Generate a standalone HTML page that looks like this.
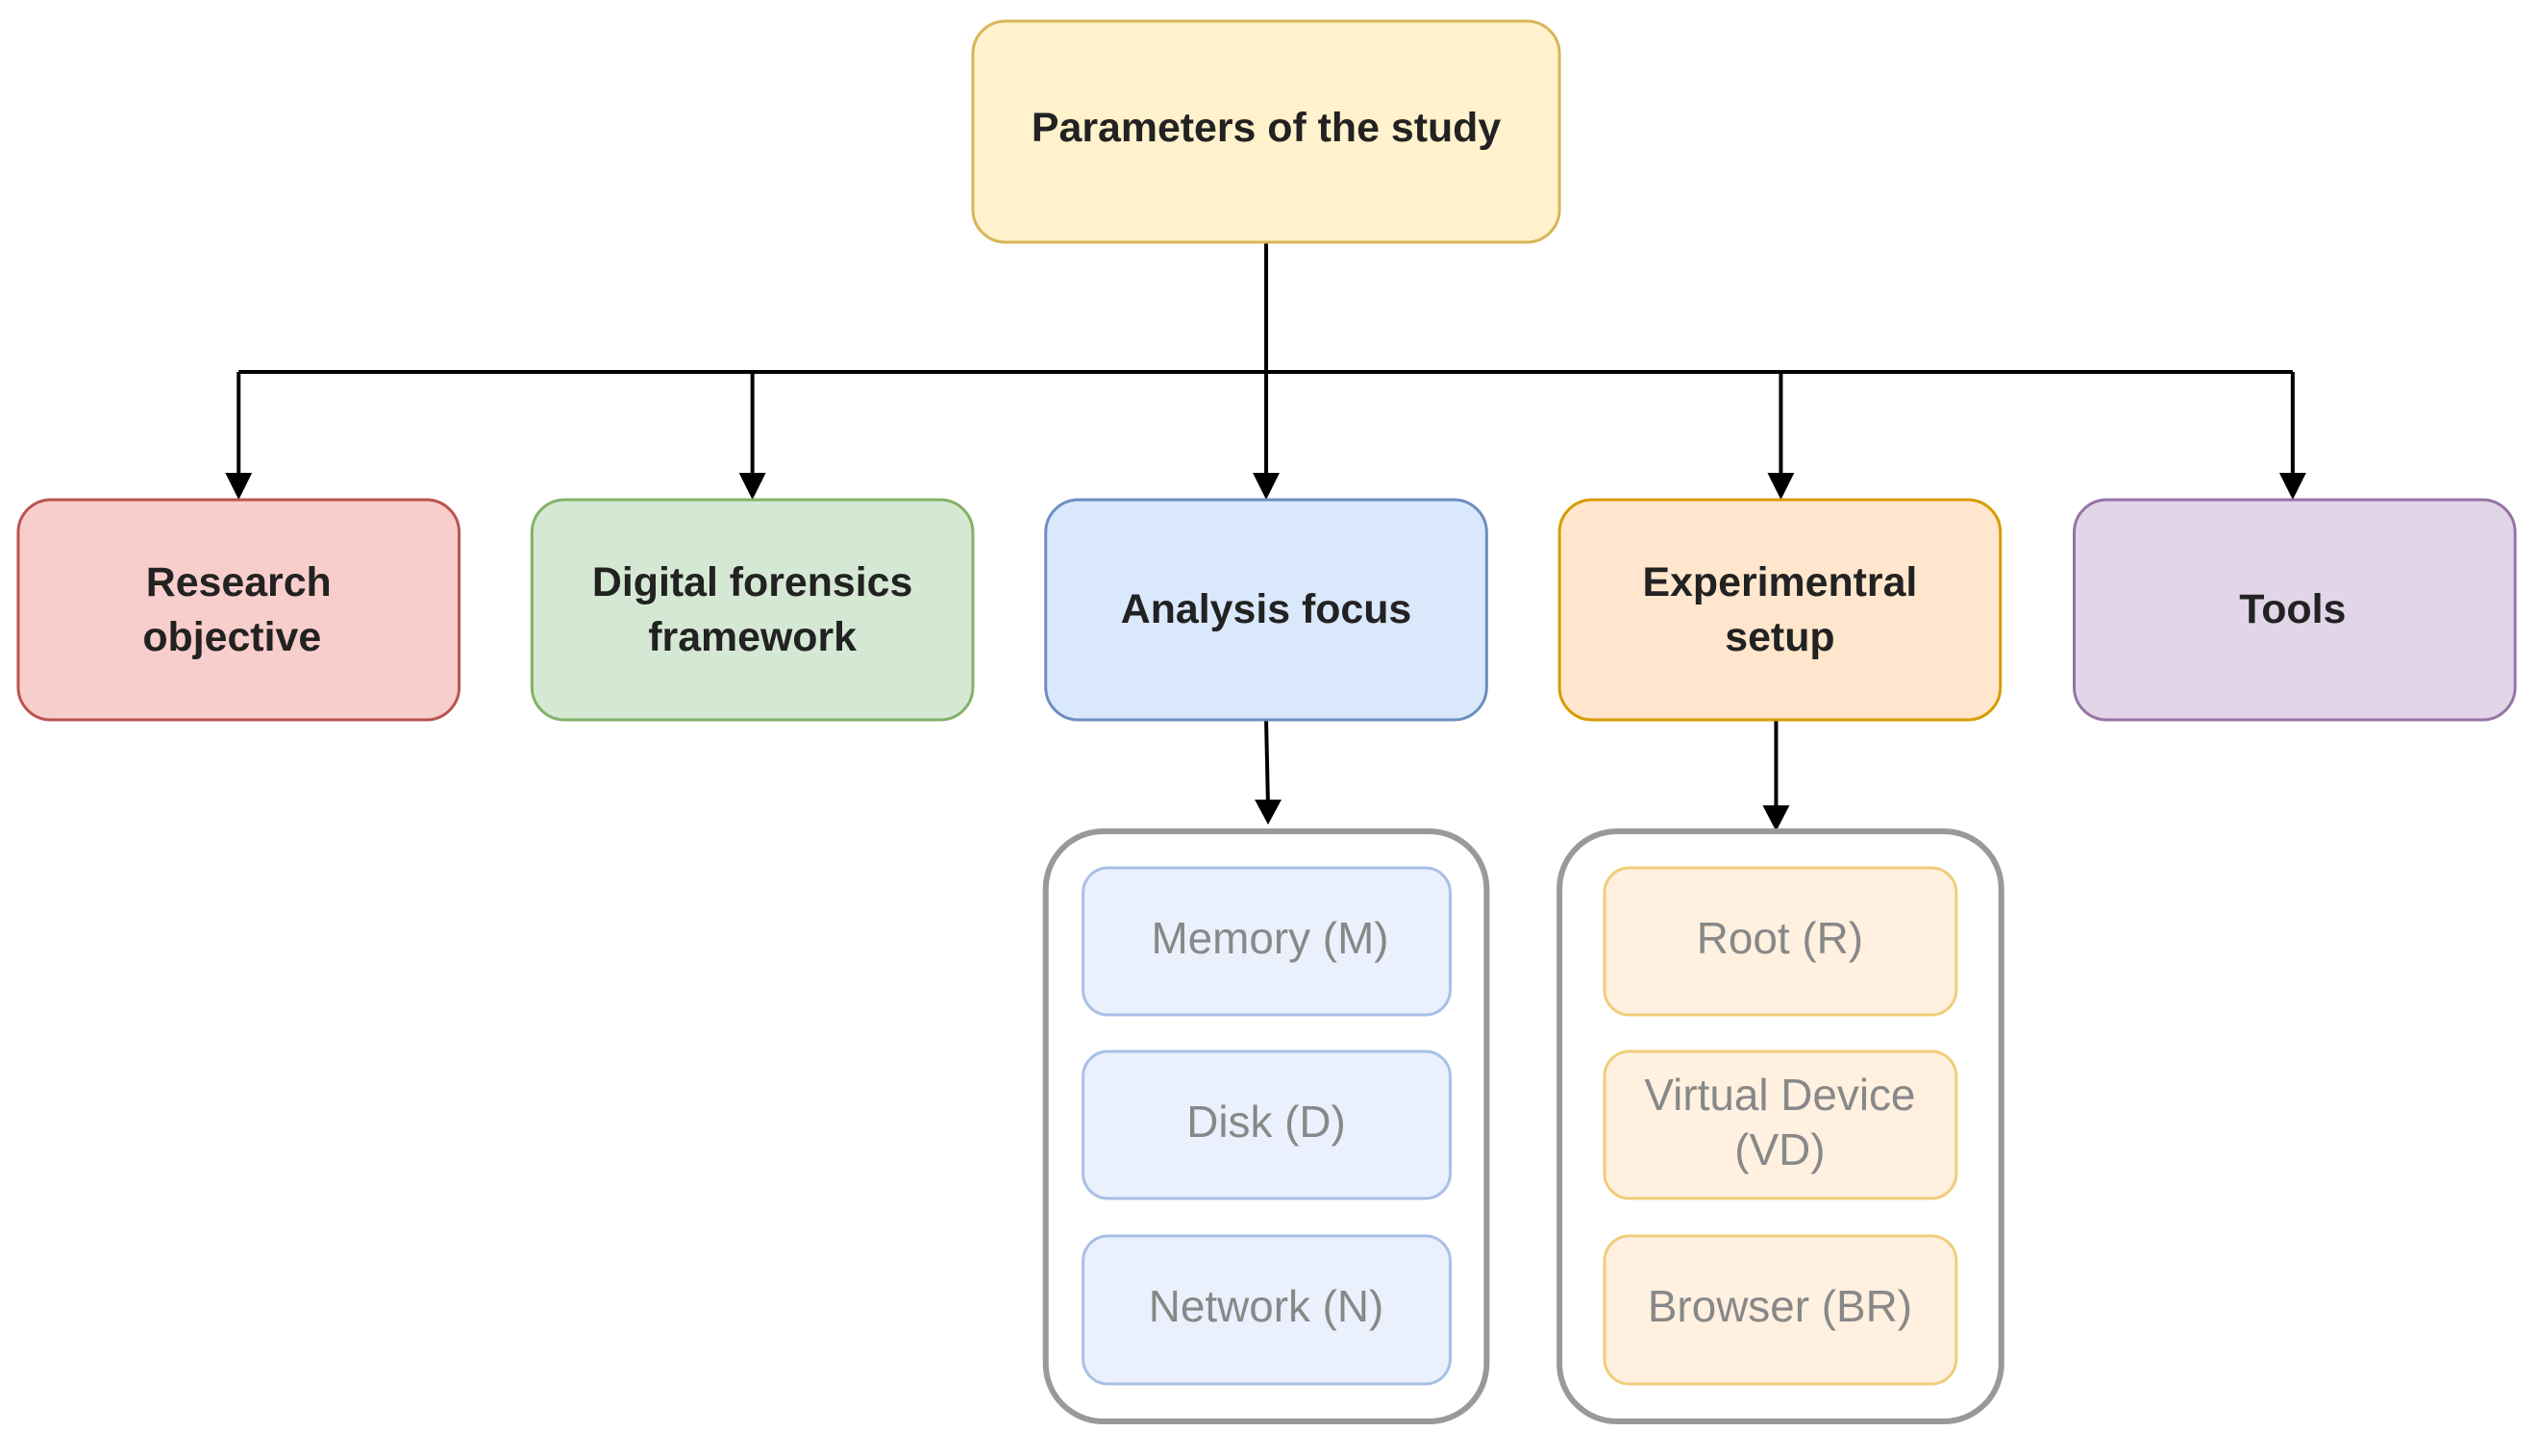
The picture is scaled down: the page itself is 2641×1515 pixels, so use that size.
<!DOCTYPE html>
<html><head><meta charset="utf-8"><style>
html,body{margin:0;padding:0;background:#fff;}
svg{display:block;}
text{font-family:"Liberation Sans",Arial,sans-serif;}
</style></head><body>
<svg width="2641" height="1515" viewBox="0 0 2641 1515" xmlns="http://www.w3.org/2000/svg">
<g transform="matrix(0.997,0,0,1,-1,0)">
<g stroke="#000" stroke-width="4" fill="none">
<line x1="1322" y1="252" x2="1322" y2="500"/>
<line x1="250" y1="387" x2="2393" y2="387"/>
<line x1="250" y1="387" x2="250" y2="500"/>
<line x1="786" y1="387" x2="786" y2="500"/>
<line x1="1859" y1="387" x2="1859" y2="500"/>
<line x1="2393" y1="387" x2="2393" y2="500"/>
<line x1="1322" y1="749" x2="1324" y2="840"/>
<line x1="1854" y1="749" x2="1854" y2="846"/>
</g>
<g fill="#000">
<polygon points="236,492 264,492 250,520"/>
<polygon points="772,492 800,492 786,520"/>
<polygon points="1308,492 1336,492 1322,520"/>
<polygon points="1845,492 1873,492 1859,520"/>
<polygon points="2379,492 2407,492 2393,520"/>
<polygon points="1310,832 1338,832 1324,858"/>
<polygon points="1840,838 1868,838 1854,865"/>
</g>
<rect x="1016" y="22" width="612" height="230" rx="34" fill="#fff2cc" stroke="#d6b656" stroke-width="3"/>
<text x="1322" y="147" font-size="43" font-weight="bold" text-anchor="middle" fill="#222">Parameters of the study</text>

<rect x="20" y="520" width="460" height="229" rx="34" fill="#f8cecc" stroke="#b85450" stroke-width="3"/>
<text x="250" y="620" font-size="43" font-weight="bold" text-anchor="middle" fill="#222">Research</text>
<text x="243" y="677" font-size="43" font-weight="bold" text-anchor="middle" fill="#222">objective</text>

<rect x="556" y="520" width="460" height="229" rx="34" fill="#d5e8d4" stroke="#82b366" stroke-width="3"/>
<text x="786" y="620" font-size="43" font-weight="bold" text-anchor="middle" fill="#222">Digital forensics</text>
<text x="786" y="677" font-size="43" font-weight="bold" text-anchor="middle" fill="#222">framework</text>

<rect x="1092" y="520" width="460" height="229" rx="34" fill="#dae8fc" stroke="#6c8ebf" stroke-width="3"/>
<text x="1322" y="648" font-size="43" font-weight="bold" text-anchor="middle" fill="#222">Analysis focus</text>

<rect x="1628" y="520" width="460" height="229" rx="34" fill="#ffe6cc" stroke="#d79b00" stroke-width="3"/>
<text x="1858" y="620" font-size="43" font-weight="bold" text-anchor="middle" fill="#222">Experimentral</text>
<text x="1858" y="677" font-size="43" font-weight="bold" text-anchor="middle" fill="#222">setup</text>

<rect x="2165" y="520" width="460" height="229" rx="34" fill="#e1d5e7" stroke="#9673a6" stroke-width="3"/>
<text x="2393" y="648" font-size="43" font-weight="bold" text-anchor="middle" fill="#222">Tools</text>

<rect x="1092" y="865" width="460" height="614" rx="60" fill="#fff" stroke="#999" stroke-width="6"/>
<rect x="1628" y="865" width="461" height="614" rx="60" fill="#fff" stroke="#999" stroke-width="6"/>

<g fill="#eaf1fd" stroke="#a8c0e6" stroke-width="3">
<rect x="1131" y="903" width="383" height="153" rx="26"/>
<rect x="1131" y="1094" width="383" height="153" rx="26"/>
<rect x="1131" y="1286" width="383" height="154" rx="26"/>
</g>
<g fill="#fff0e0" stroke="#f0cd7a" stroke-width="3">
<rect x="1675" y="903" width="367" height="153" rx="26"/>
<rect x="1675" y="1094" width="367" height="153" rx="26"/>
<rect x="1675" y="1286" width="367" height="154" rx="26"/>
</g>
<g font-size="46" text-anchor="middle" fill="#888">
<text x="1326" y="992">Memory (M)</text>
<text x="1322" y="1183">Disk (D)</text>
<text x="1322" y="1375">Network (N)</text>
<text x="1858" y="992">Root (R)</text>
<text x="1858" y="1155">Virtual Device</text>
<text x="1858" y="1212">(VD)</text>
<text x="1858" y="1375">Browser (BR)</text>
</g>
</g>
</svg>
</body></html>
